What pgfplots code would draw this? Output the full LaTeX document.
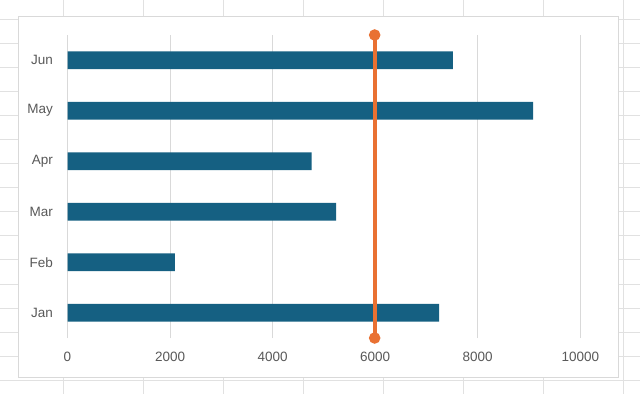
\documentclass[border=0pt]{standalone}
\usepackage{pgfplots}
\pgfplotsset{compat=1.18}
\usepackage{fontspec}
\setmainfont{Liberation Sans}
\definecolor{barblue}{HTML}{156082}
\definecolor{lineorange}{HTML}{E97132}
\definecolor{gridgray}{HTML}{D9D9D9}
\definecolor{sheetgray}{HTML}{E1E1E1}
\definecolor{labelgray}{HTML}{595959}
\begin{document}
\begin{tikzpicture}[x=1pt,y=1pt]
\path[use as bounding box] (0,0) rectangle (640,394);
% spreadsheet background grid
\foreach \xx in {63,143,223,303,383,463,543,623} {\draw[sheetgray,line width=1pt] (\xx,0) -- (\xx,394);}
\foreach \k in {0,...,16} {\draw[sheetgray,line width=1pt] (0,{394-(20+24*(\k-1))}) -- (640,{394-(20+24*(\k-1))});}
% chart area
\draw[gridgray,line width=1pt,fill=white] (18,17) rectangle (618,377);
\begin{axis}[
  at={(67.5pt,56pt)}, anchor=south west,
  scale only axis, width=512.8pt, height=303pt,
  xmin=0, xmax=10000, ymin=-0.5, ymax=5.5,
  axis line style={draw=none},
  xtick={0,2000,...,10000},
  ytick={0,...,5},
  yticklabels={Jan,Feb,Mar,Apr,May,Jun},
  major tick length=0pt,
  xmajorgrids, grid style={gridgray,line width=1pt},
  scaled x ticks=false,
  /pgf/number format/assume math mode=true,
  /pgf/number format/set thousands separator={},
  tick label style={font=\fontsize{13.5}{16}\selectfont, text=labelgray},
  xticklabel style={yshift=-11pt},
  yticklabel style={xshift=-11pt},
  clip=false,
]
\addplot[xbar, bar width=17.7pt, fill=barblue, draw=none] coordinates {
 (7245,0) (2096,1) (5236,2) (4762,3) (9078,4) (7517,5)
};
\addplot[lineorange, line width=3.7pt, mark=*, mark size=3.8pt, mark options={fill=lineorange,draw=none}] coordinates {
 (5990,-0.5) (5990,5.5)
};
\end{axis}
\end{tikzpicture}
\end{document}
